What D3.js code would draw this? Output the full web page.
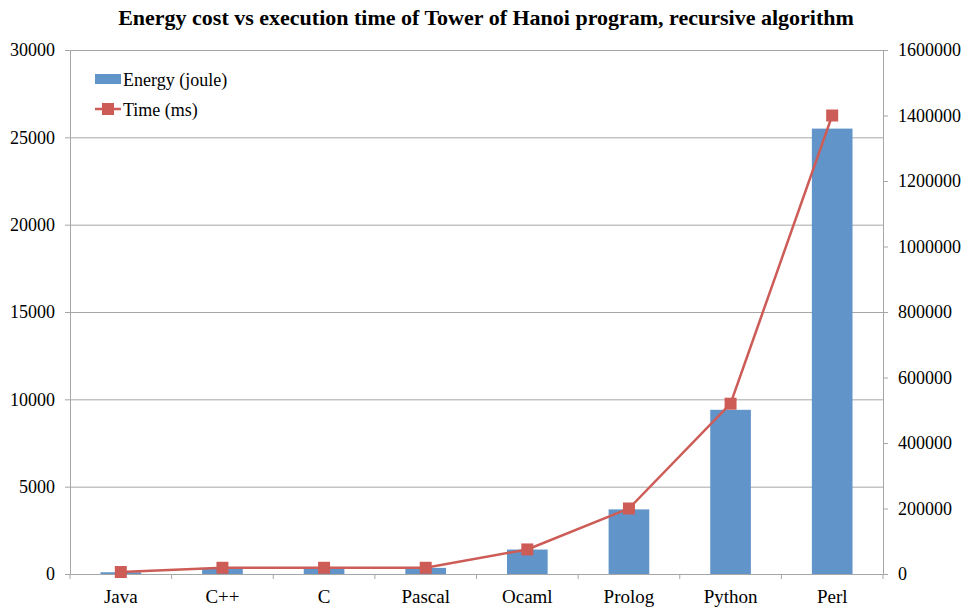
<!DOCTYPE html>
<html>
<head>
<meta charset="utf-8">
<script src="https://cdn.jsdelivr.net/npm/d3@7"></script>
<style>
body { margin: 0; background: #fff; }
svg text { font-family: "Liberation Serif", "Times New Roman", serif !important; fill: #000; }
</style>
</head>
<body>
<script>
// chart data
var languages = ["Java", "C++", "C", "Pascal", "Ocaml", "Prolog", "Python", "Perl"];
var energy = [100, 320, 330, 350, 1400, 3700, 9400, 25500];
var timeMs = [6000, 19000, 19000, 19000, 75000, 200000, 520000, 1400000];
var leftTicks = [0, 5000, 10000, 15000, 20000, 25000, 30000];
var rightTicks = [0, 200000, 400000, 600000, 800000, 1000000, 1200000, 1400000, 1600000];

var W = 965, H = 608;
var margin = {top: 50, right: 82, bottom: 34, left: 70};
var width = W - margin.left - margin.right,
    height = H - margin.top - margin.bottom;
var font = "'Liberation Serif', 'Times New Roman', serif";

var svg = d3.select("body").append("svg")
  .attr("width", W)
  .attr("height", H)
  .attr("font-family", font);

svg.append("text")
  .attr("x", 486)
  .attr("y", 25)
  .attr("text-anchor", "middle")
  .style("font-size", "22px")
  .style("font-weight", "bold")
  .text("Energy cost vs execution time of Tower of Hanoi program, recursive algorithm");

var g = svg.append("g")
  .attr("transform", "translate(" + margin.left + "," + margin.top + ")");

var x = d3.scaleBand().domain(languages).range([0, width]).paddingInner(0.6).paddingOuter(0.3);
var xb = d3.scaleBand().domain(languages).range([0, width]);
var y = d3.scaleLinear().domain([0, 30000]).range([height, 0]);
var y2 = d3.scaleLinear().domain([0, 1600000]).range([height, 0]);

// gridlines
g.selectAll(".grid").data(leftTicks.slice(1))
  .enter().append("line")
  .attr("x1", 0).attr("x2", width)
  .attr("y1", function(d) { return y(d) + 0.5; })
  .attr("y2", function(d) { return y(d) + 0.5; })
  .attr("stroke", "#a6a6a6");

// bars
g.selectAll(".bar").data(languages)
  .enter().append("rect")
  .attr("x", function(d) { return x(d); })
  .attr("width", x.bandwidth())
  .attr("y", function(d, i) { return y(energy[i]); })
  .attr("height", function(d, i) { return height - y(energy[i]); })
  .attr("fill", "#6194c9");

// left axis
var ya = g.append("g")
  .call(d3.axisLeft(y).tickValues(leftTicks).tickSize(5).tickPadding(10).tickFormat(d3.format("d")));

// right axis
var yb = g.append("g")
  .attr("transform", "translate(" + width + ",0)")
  .call(d3.axisRight(y2).tickValues(rightTicks).tickSize(5).tickPadding(10).tickFormat(d3.format("d")));

// bottom axis
var xa = g.append("g")
  .attr("transform", "translate(0," + height + ")")
  .call(d3.axisBottom(xb).tickSize(0).tickPadding(16));
xa.selectAll(".sep").data(languages.concat([""]))
  .enter().append("line")
  .attr("x1", function(d, i) { return i * xb.bandwidth(); })
  .attr("x2", function(d, i) { return i * xb.bandwidth(); })
  .attr("y1", 0).attr("y2", 5)
  .attr("stroke", "#a6a6a6");

[ya, yb, xa].forEach(function(a) {
  a.attr("font-family", font);
  a.selectAll("text").style("font-size", "18px");
  a.select(".domain").attr("stroke", "#a6a6a6");
  a.selectAll(".tick line").attr("stroke", "#a6a6a6");
});
xa.selectAll("text").style("font-size", "19px");

// time line
var line = d3.line()
  .x(function(d, i) { return xb(languages[i]) + xb.bandwidth() / 2; })
  .y(function(d) { return y2(d); });

g.append("path")
  .datum(timeMs)
  .attr("d", line)
  .attr("fill", "none")
  .attr("stroke", "#cd5c57")
  .attr("stroke-width", 2.5);

g.selectAll(".marker").data(timeMs)
  .enter().append("rect")
  .attr("x", function(d, i) { return xb(languages[i]) + xb.bandwidth() / 2 - 6; })
  .attr("y", function(d) { return y2(d) - 6; })
  .attr("width", 12).attr("height", 12)
  .attr("fill", "#cd5c57");

// legend
var lg = svg.append("g").attr("transform", "translate(95,80)");
lg.append("rect").attr("x", 0).attr("y", -6).attr("width", 26).attr("height", 10).attr("fill", "#6194c9");
lg.append("text").attr("x", 28).attr("y", 6).style("font-size", "18px").text("Energy (joule)");
lg.append("line").attr("x1", 0).attr("x2", 26).attr("y1", 29).attr("y2", 29)
  .attr("stroke", "#cd5c57").attr("stroke-width", 2.5);
lg.append("rect").attr("x", 7).attr("y", 23).attr("width", 12).attr("height", 12).attr("fill", "#cd5c57");
lg.append("text").attr("x", 28).attr("y", 36).style("font-size", "18px").text("Time (ms)");
</script>
</body>
</html>
